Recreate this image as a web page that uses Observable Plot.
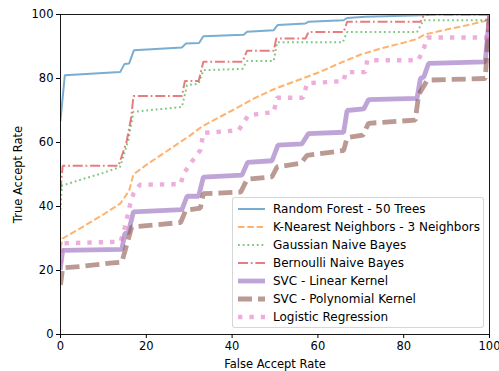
<!DOCTYPE html>
<html><head><meta charset="utf-8">
<script src="https://cdn.jsdelivr.net/npm/d3@7"></script>
<script src="https://cdn.jsdelivr.net/npm/@observablehq/plot@0.6"></script>
<style>
body{margin:0;background:#fff;font-family:"DejaVu Sans",sans-serif;}
#wrap{position:relative;width:499px;height:371px;}
#legend{position:absolute;left:232px;top:197px;width:252px;height:131px;border:1px solid rgba(204,204,204,0.8);border-radius:3px;background:rgba(255,255,255,0.8);box-sizing:border-box;font-size:12px;color:#000;}
.row{position:absolute;left:3px;height:18px;display:flex;align-items:center;white-space:nowrap;}
.row svg{margin-right:6px;}
</style></head><body><div id="wrap"></div>
<script>
const xTicks = [0, 20, 40, 60, 80, 100];
const yTicks = [0, 20, 40, 60, 80, 100];
const seriesNames = ["Random Forest - 50 Trees", "K-Nearest Neighbors - 3 Neighbors", "Gaussian Naive Bayes", "Bernoulli Naive Bayes", "SVC - Linear Kernel", "SVC - Polynomial Kernel", "Logistic Regression"];

const randomForest = [[0,67],[1,81],[13.9,82],[14.9,84.5],[16,84.7],[17.1,88.8],[28.3,89.7],[29.2,90.9],[32.3,91.1],[33.3,93.2],[42.7,93.7],[43.5,94.6],[49.7,95.1],[50.6,96.7],[57.1,97.2],[57.8,97.7],[66,98.2],[66.8,98.9],[71,99.3],[84.3,99.8],[85.5,100],[100,100]];
const knn = [[0,27],[0.5,30],[5,33.5],[10,37.5],[14,41],[16,45],[17,50],[20,53],[25,57.5],[30,62],[33,65],[35,66.5],[40,70],[45,73.7],[50,76.8],[55,79.3],[60,81.8],[66,85.3],[70,87.5],[75,89.5],[80,91.2],[83,92.3],[85,93.8],[90,95.3],[95,96.7],[99,98],[100,100]];
const gaussianNB = [[0,39],[0.3,46.5],[5,48.5],[10,50.5],[13.9,52.4],[15.8,60.7],[17,69.6],[28.3,71.1],[29.5,77.9],[32.2,78.4],[33.3,82.6],[42.4,83],[43.5,85.5],[49.7,85.5],[50.5,91.3],[65.8,91.3],[66.8,94.5],[83.1,94.5],[84.6,98.2],[99.5,98.2],[100,100]];
const bernoulliNB = [[0,45],[0.5,52.7],[13.5,52.7],[15.4,60.2],[16.5,68],[17,74.5],[28.3,74.5],[29,79.2],[32.2,79.2],[33.3,85.2],[42.4,85.2],[43.5,88.7],[49.7,88.7],[50.3,92.5],[57.1,92.5],[57.8,94.5],[66,94.5],[66.8,97.7],[83.9,97.7],[84.6,99.5],[86,100],[100,100]];
const svcLinear = [[0,21],[0.5,26.3],[14.3,26.6],[15,31.6],[15.8,31.8],[17,38.3],[28.3,39],[29.5,43.2],[32.2,43.2],[33.3,49.2],[42.3,49.8],[43.6,53.8],[49.3,54.3],[50.7,59.2],[56.3,59.6],[57.8,62.8],[66,63.2],[66.8,70],[70.7,70.5],[71.8,73.4],[83.1,73.8],[83.9,80],[84.7,80.5],[85.8,84.7],[99,85.2],[100,100]];
const svcPoly = [[0,15.5],[0.5,20.8],[5,21.3],[11.5,22.3],[14.3,22.6],[16.6,33.6],[28,35],[29.2,38.8],[32.6,39.5],[33.3,44],[42,44.5],[43.5,48.5],[49.3,49.3],[50.5,52.4],[56,53.5],[57.5,56],[66,57.5],[66.8,61.5],[70.5,62.3],[71.8,66],[82.7,67],[83.5,75],[85.5,79.5],[99,80],[100,100]];
const logistic = [[0,22],[0.5,28.5],[14,29],[15,33.5],[16.2,40.5],[17,44],[18.5,46.8],[28,47],[28.7,50.3],[30.6,54],[32.6,57.6],[33.3,63],[41.5,63.8],[43.8,68.5],[49.7,69.5],[50.5,74],[56.5,74],[57.5,78.5],[66,79.2],[66.5,82],[71,82],[71.5,85.7],[83.4,85.7],[84.7,89.4],[85.5,92.8],[99.5,92.8],[100,100]];

const seriesData = [randomForest, knn, gaussianNB, bernoulliNB, svcLinear, svcPoly, logistic];
const colors = ["#1f77b4", "#ff7f0e", "#2ca02c", "#d62728", "#9467bd", "#8c564b", "#e377c2"];
const widths = [2, 2, 2, 2, 4.8, 4.8, 4.4];
const dashes = [null, "6.5,2.8", "1.8,2.9", "10,2.8,1.8,2.8", null, "14,6", "4.4,7"];
const caps = ["square", "butt", "butt", "butt", "square", "butt", "butt"];

const marks = [];
seriesData.forEach((d, i) => {
  marks.push(Plot.line(d, {x: p => p[0], y: p => p[1], stroke: colors[i], strokeWidth: widths[i], strokeDasharray: dashes[i], strokeLinecap: caps[i], strokeLinejoin: "miter", strokeOpacity: 0.6, clip: true}));
});
marks.push(Plot.frame({stroke: "#000", strokeWidth: 0.9}));
marks.push(Plot.axisX({ticks: xTicks, tickSize: 4, tickPadding: 3, label: "False Accept Rate", labelAnchor: "center", labelArrow: false, labelOffset: 33}));
marks.push(Plot.axisY({ticks: yTicks, tickSize: 4, tickPadding: 3, label: "True Accept Rate", labelAnchor: "center", labelArrow: false, labelOffset: 47}));

const chart = Plot.plot({
  width: 499, height: 371,
  marginLeft: 60, marginRight: 10, marginTop: 14, marginBottom: 37,
  x: {domain: [0, 100]},
  y: {domain: [0, 100]},
  style: {fontSize: "11.5px", fontFamily: "DejaVu Sans, sans-serif", color: "#000", background: "#fff", overflow: "visible"},
  marks
});
const wrap = document.getElementById("wrap");
wrap.appendChild(chart);

const legend = document.createElement("div");
legend.id = "legend";
seriesNames.forEach((name, i) => {
  const row = document.createElement("div");
  row.className = "row";
  row.style.top = (1.5 + i * 18.1) + "px";
  const ns = "http://www.w3.org/2000/svg";
  const svg = document.createElementNS(ns, "svg");
  svg.setAttribute("width", 31); svg.setAttribute("height", 12);
  const ln = document.createElementNS(ns, "line");
  ln.setAttribute("x1", 2); ln.setAttribute("x2", 29); ln.setAttribute("y1", 6); ln.setAttribute("y2", 6);
  ln.setAttribute("stroke", colors[i]); ln.setAttribute("stroke-opacity", 0.6);
  ln.setAttribute("stroke-width", widths[i]);
  if (dashes[i]) ln.setAttribute("stroke-dasharray", dashes[i]);
  ln.setAttribute("stroke-linecap", "butt");
  svg.appendChild(ln);
  row.appendChild(svg);
  const t = document.createElement("span");
  t.textContent = name;
  row.appendChild(t);
  legend.appendChild(row);
});
wrap.appendChild(legend);
</script></body></html>
